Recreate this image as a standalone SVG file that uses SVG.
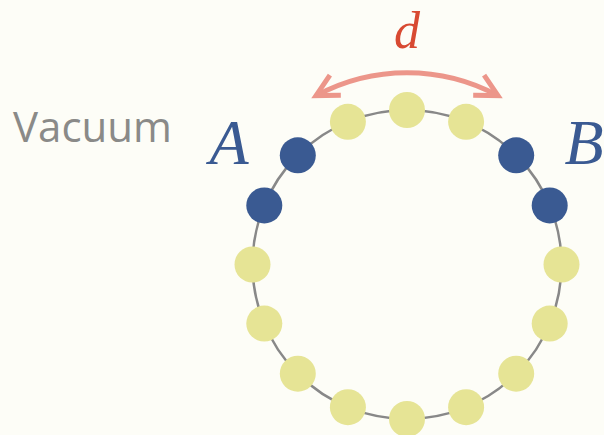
<svg xmlns="http://www.w3.org/2000/svg" width="604" height="435" viewBox="0 0 604 435">
<style>
.ring{fill:none;stroke:#888888;stroke-width:2.5}
.y{fill:#e6e495}
.b{fill:#3a5a92}
.lbl{font-family:"Liberation Serif",serif;font-style:italic}
.vac{font-family:"Open Sans","Noto Sans",sans-serif;font-size:42px;fill:#8a8a88}
.arc{fill:none;stroke:#ec968a;stroke-width:5}
</style>
<defs>
<marker id="ah" markerUnits="userSpaceOnUse" markerWidth="40" markerHeight="40" viewBox="-30 -20 40 40" refX="0" refY="0" orient="auto-start-reverse">
<path d="M -22 -11.5 L 0 0 L -22 11.5" fill="none" stroke="#ec968a" stroke-width="5" stroke-linejoin="miter"/>
</marker>
</defs>
<rect width="604" height="435" fill="#fdfdf7"/>
<circle class="ring" cx="407" cy="264.5" r="154.5"/>
<g id="connectors">
<path class="arc" d="M 316 95.6 A 192 192 0 0 1 498 95.6" marker-start="url(#ah)" marker-end="url(#ah)"/>
</g>
<g id="beads">
<g id="b0"><circle class="y" cx="407" cy="110" r="18"/></g>
<g id="b1"><circle class="y" cx="466.1" cy="121.8" r="18"/></g>
<g id="b2"><circle class="b" cx="516.2" cy="155.3" r="18"/></g>
<g id="b3"><circle class="b" cx="549.7" cy="205.4" r="18"/></g>
<g id="b4"><circle class="y" cx="561.5" cy="264.5" r="18"/></g>
<g id="b5"><circle class="y" cx="549.7" cy="323.6" r="18"/></g>
<g id="b6"><circle class="y" cx="516.2" cy="373.7" r="18"/></g>
<g id="b7"><circle class="y" cx="466.1" cy="407.2" r="18"/></g>
<g id="b8"><circle class="y" cx="407" cy="419" r="18"/></g>
<g id="b9"><circle class="y" cx="347.9" cy="407.2" r="18"/></g>
<g id="b10"><circle class="y" cx="297.8" cy="373.7" r="18"/></g>
<g id="b11"><circle class="y" cx="264.3" cy="323.6" r="18"/></g>
<g id="b12"><circle class="y" cx="252.5" cy="264.5" r="18"/></g>
<g id="b13"><circle class="b" cx="264.3" cy="205.4" r="18"/></g>
<g id="b14"><circle class="b" cx="297.8" cy="155.3" r="18"/></g>
<g id="b15"><circle class="y" cx="347.9" cy="121.8" r="18"/></g>
</g>
<g id="labels">
<text class="lbl" x="407" y="48" font-size="52" fill="#d84a32" text-anchor="middle">d</text>
<text class="lbl" x="229" y="164" font-size="64" fill="#3a5a92" text-anchor="middle">A</text>
<text class="lbl" x="584" y="164" font-size="64" fill="#3a5a92" text-anchor="middle">B</text>
<text class="vac" x="13" y="142">Vacuum</text>
</g>
</svg>
